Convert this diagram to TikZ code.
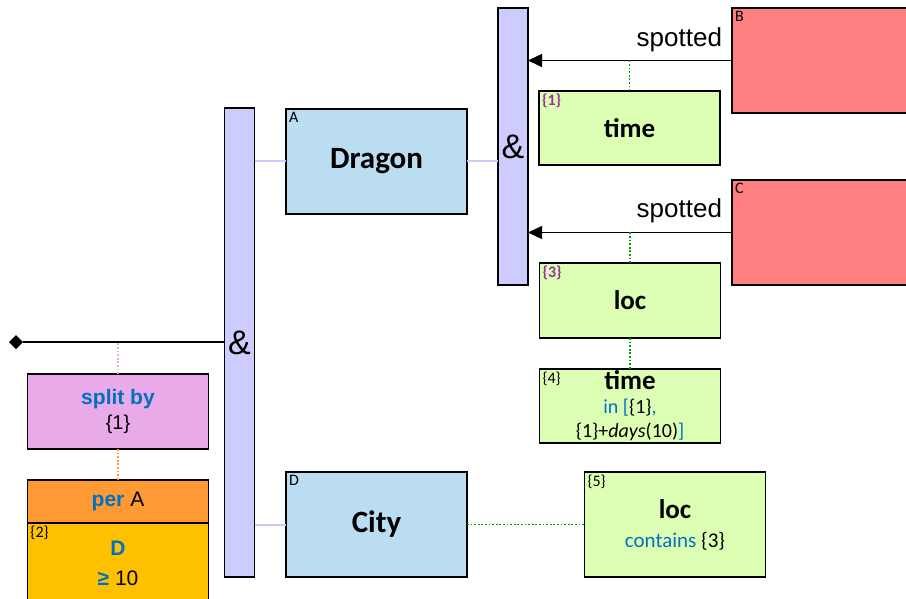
\documentclass[tikz,border=0pt]{standalone}
\usepackage{fontspec}
\setmainfont{Carlito}
\newfontfamily\arial{Liberation Sans}
\usepackage{xcolor}
\usetikzlibrary{arrows.meta, shapes.geometric}
\definecolor{barfill}{HTML}{CCCCFF}
\definecolor{entfill}{HTML}{BBDDF1}
\definecolor{attfill}{HTML}{DDFFB4}
\definecolor{relfill}{HTML}{FF8080}
\definecolor{splitfill}{HTML}{E8AAE8}
\definecolor{perfill}{HTML}{FF9933}
\definecolor{aggfill}{HTML}{FFC000}
\definecolor{tblue}{HTML}{0070C0}
\definecolor{tpurple}{HTML}{993399}
\definecolor{dotgreen}{HTML}{009900}
\newcommand{\fsz}[2]{\fontsize{#1}{#2}\selectfont}

\begin{document}
\begin{tikzpicture}[x=1pt, y=-1pt, every node/.style={inner sep=0, outer sep=0}]
\tikzset{
  box/.style={draw, line width=1.4pt, minimum width=181pt, align=center},
  bar/.style={box, fill=barfill, minimum width=30pt, font=\arial\fsz{34}{34}},
  ent/.style={box, fill=entfill, minimum height=105pt, font=\bfseries\fsz{31}{31}},
  att/.style={box, fill=attfill, minimum height=74pt},
  rel/.style={box, fill=relfill, minimum width=182pt, minimum height=105pt},
  tag/.style={font=\fsz{16}{16}, inner sep=3pt},
  ptag/.style={tag, text=tpurple, font=\bfseries\fsz{16}{16}},
  link/.style={barfill, line width=2pt},
  dots/.style={dotgreen, line width=1.8pt, dash pattern=on 1.8pt off 1.8pt},
  edge/.style={line width=1.4pt, -{Triangle[length=14pt, width=13pt]}},
}
\useasboundingbox (0,0) rectangle (906,599);
% --- conjunction bars ---
\node[bar, minimum height=469pt] (and1) at (239.5,342.5) {\raisebox{-4pt}{\&}};
\node[bar, minimum height=277pt] (and2) at (513,146.5) {\raisebox{-4pt}{\&}};
% --- entities ---
\node[ent, label={[tag, anchor=north west]north west:A}] (dragon) at (376.5,161.5) {Dragon};
\node[ent, label={[tag, anchor=north west]north west:D}] (city) at (376.5,524.5) {City};
\node[rel, label={[tag, anchor=north west]north west:B}] (relB) at (823,60.5) {};
\node[rel, label={[tag, anchor=north west]north west:C}] (relC) at (823,232.5) {};
% --- attributes ---
\node[att, font=\bfseries\fsz{27}{27}, label={[ptag, anchor=north west]north west:\{1\}}] (time1) at (629.5,128) {time};
\node[att, minimum height=75pt, font=\bfseries\fsz{27}{27}, label={[ptag, anchor=north west]north west:\{3\}}] (loc3) at (630,300.5) {loc};
\node[att, font=\fsz{20}{24}, label={[tag, anchor=north west]north west:\{4\}}] (time4) at (630,406)
  {{\bfseries\fsz{27}{24}time}\\
   \textcolor{tblue}{in [}\{1\}\textcolor{tblue}{,}\\
   \{1\}+\textit{days}(10)\textcolor{tblue}{]}};
\node[att, minimum height=105pt, font=\fsz{21}{29}, label={[tag, anchor=north west]north west:\{5\}}] (loc5) at (675,524.5)
  {{\bfseries\fsz{27}{29}loc}\\
   \textcolor{tblue}{contains} \{3\}};
% --- split / aggregate ---
\node[shape=diamond, fill, minimum size=14pt] (dia) at (16,342) {};
\node[box, fill=splitfill, minimum height=75pt, font=\arial\fsz{20}{25}] (split) at (118,411.5)
  {\textcolor{tblue}{\bfseries\fsz{21}{25}split by}\\\{1\}};
\node[box, fill=perfill, minimum height=43pt, font=\arial\fsz{21}{21}] (per) at (118,501.5)
  {\textcolor{tblue}{\bfseries per} A};
\node[box, fill=aggfill, minimum height=80pt, font=\arial\fsz{21}{30}, label={[tag, anchor=north west]north west:\{2\}}] (agg) at (118,563)
  {\textcolor{tblue}{\bfseries D}\\\textcolor{tblue}{\bfseries ≥} 10};
% --- connectors ---
\draw[line width=1.4pt] (dia) -- (dia -| and1.west);
\draw[splitfill, line width=1.8pt, dash pattern=on 1.8pt off 1.8pt] (split.north) -- (split.north |- dia);
\draw[perfill, line width=1.8pt, dash pattern=on 1.8pt off 1.8pt] (split.south) -- (per.north);
\draw[link] (and1.east |- dragon.west) -- (dragon.west);
\draw[link] (and1.east |- city.west) -- (city.west);
\draw[link] (dragon.east) -- (dragon.east -| and2.west);
\draw[edge] (relB.west) -- (relB.west -| and2.east);
\draw[edge] (relC.west) -- (relC.west -| and2.east);
\node[font=\arial\fsz{26}{26}, anchor=base east] (spotB) at (722,47) {spotted};
\node[font=\arial\fsz{26}{26}, anchor=base east] (spotC) at (722,218) {spotted};
\draw[dots] (time1.north) -- (time1.north |- relB.west);
\draw[dots] (loc3.north) -- (loc3.north |- relC.west);
\draw[dots] (loc3.south) -- (time4.north);
\draw[dots] (city.east) -- (city.east -| loc5.west);
\end{tikzpicture}
\end{document}
